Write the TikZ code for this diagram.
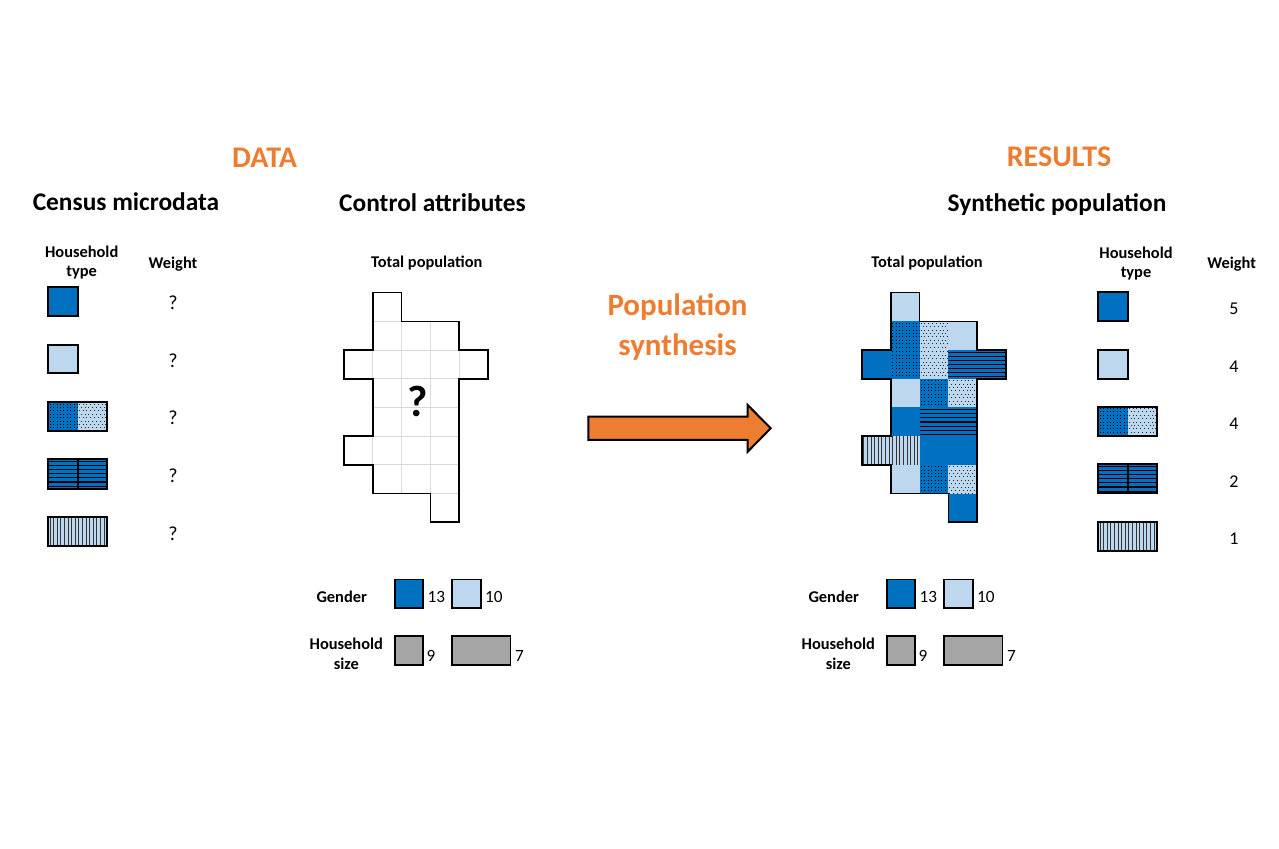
\documentclass[tikz,border=0pt]{standalone}
\usepackage{fontspec}
\setmainfont{Carlito}
\definecolor{dblue}{HTML}{0070C0}
\definecolor{lblue}{HTML}{BDD7EE}
\definecolor{orng}{HTML}{ED7D31}
\definecolor{gry}{HTML}{A5A5A5}
\definecolor{gridc}{HTML}{D9D9D9}
% pattern cells, arguments in pixel coordinates x1 y1 x2 y2
\newcommand\cellDD[4]{%
  \fill[dblue] (#1,#2) rectangle (#3,#4);
  \begin{scope}
    \clip (#1,#2) rectangle (#3,#4);
    \foreach \j in {0,...,8}{\foreach \i in {0,...,8}{%
      \fill[black] ({#1+1.4+3.4*\i},{#2+1.4+3.4*\j}) rectangle ++(1,1);}}
  \end{scope}}
\newcommand\cellLD[4]{%
  \fill[lblue] (#1,#2) rectangle (#3,#4);
  \begin{scope}
    \clip (#1,#2) rectangle (#3,#4);
    \foreach \j in {0,...,8}{\foreach \i in {0,...,8}{%
      \fill[black!85] ({#1+1+3.8*\i+1.9*mod(\j,2)},{#2+1.4+3.4*\j}) rectangle ++(0.9,0.9);}}
  \end{scope}}
\newcommand\cellHS[4]{%
  \fill[dblue] (#1,#2) rectangle (#3,#4);
  \begin{scope}
    \clip (#1,#2) rectangle (#3,#4);
    \foreach \k in {0,...,8}{\draw[black, line width=0.55pt] (#1,{#2+2.2+4.1*\k}) -- (#3,{#2+2.2+4.1*\k});}
  \end{scope}}
\newcommand\cellVS[4]{%
  \fill[lblue] (#1,#2) rectangle (#3,#4);
  \begin{scope}
    \clip (#1,#2) rectangle (#3,#4);
    \foreach \k in {0,...,16}{\draw[black!80, line width=0.45pt] ({#1+1.8+3.6*\k},#2) -- ({#1+1.8+3.6*\k},#4);}
  \end{scope}}
\tikzset{
  ttl/.style={font=\fontsize{15}{18}\selectfont\bfseries, text=orng, anchor=base, inner sep=0pt},
  ttlb/.style={font=\fontsize{15.5}{18}\selectfont\bfseries, text=orng, anchor=base, inner sep=0pt},
  hdr/.style={font=\fontsize{12.7}{15}\selectfont\bfseries, anchor=base, inner sep=0pt},
  lbl/.style={font=\fontsize{8.2}{9}\selectfont\bfseries, anchor=base, inner sep=0pt},
  qm/.style={font=\fontsize{10}{12}\selectfont, anchor=base, inner sep=0pt},
  num/.style={font=\fontsize{9}{11}\selectfont, anchor=base, inner sep=0pt},
  cnt/.style={font=\fontsize{8.6}{10}\selectfont, anchor=base west, inner sep=0pt},
  box/.style={draw=black, line width=1pt},
  sbox/.style={draw=black, line width=0.8pt},
  outl/.style={draw=black, line width=0.8pt, line join=miter},
}
\begin{document}
\begin{tikzpicture}[x=0.5pt,y=-0.5pt]
\useasboundingbox (0,0) rectangle (1279,849);

% ---------- titles ----------
\node[ttl] (data) at (264.6,167.3) {DATA};
\node[ttl] (results) at (1059,166.7) {RESULTS};
\node[hdr] (census) at (126,211) {Census microdata};
\node[hdr] (control) at (432.5,211.5) {Control attributes};
\node[hdr] (synth) at (1057,211.5) {Synthetic population};
\node[ttlb] (popa) at (677.5,316) {Population};
\node[ttlb] (popb) at (677.5,356) {synthesis};

% ---------- left: census microdata ----------
\node[lbl] (lht1) at (81.7,258) {Household};
\node[lbl] (lht2) at (81.7,277) {type};
\node[lbl] (lwt) at (173,268.5) {Weight};
\fill[dblue] (48.3,287.3) rectangle (78.3,316);
\draw[box] (48.3,287.3) rectangle (78.3,316);
\fill[lblue] (48.3,344.7) rectangle (78.3,373.3);
\draw[box] (48.3,344.7) rectangle (78.3,373.3);
\cellDD{48.3}{402.3}{77.8}{431}
\cellLD{77.8}{402.3}{107.3}{431}
\draw[box] (48.3,402.3) rectangle (107.3,431);
\cellHS{48.3}{459.3}{107.3}{488.7}
\draw[box] (48.3,459.3) rectangle (107.3,488.7);
\draw[black, line width=0.8pt] (77.8,459.3) -- (77.8,488.7);
\cellVS{48.3}{517.3}{107.3}{546}
\draw[box] (48.3,517.3) rectangle (107.3,546);
\node[qm] (lq1) at (173,310) {?};
\node[qm] (lq2) at (173,367.5) {?};
\node[qm] (lq3) at (173,425) {?};
\node[qm] (lq4) at (173,482.5) {?};
\node[qm] (lq5) at (173,540) {?};

% ---------- control attributes grid ----------
\node[lbl] (ltot) at (426.7,267.5) {Total population};
\fill[white] (372.8,292.7) -- (401.6,292.7) -- (401.6,321.4) -- (459.2,321.4) -- (459.2,350.1) -- (488,350.1) -- (488,378.8) -- (459.2,378.8) -- (459.2,522.3) -- (430.4,522.3) -- (430.4,493.6) -- (372.8,493.6) -- (372.8,464.9) -- (344,464.9) -- (344,436.2) -- (372.8,436.2) -- (372.8,378.8) -- (344,378.8) -- (344,350.1) -- (372.8,350.1) -- cycle;
\begin{scope}
  \clip (372.8,292.7) -- (401.6,292.7) -- (401.6,321.4) -- (459.2,321.4) -- (459.2,350.1) -- (488,350.1) -- (488,378.8) -- (459.2,378.8) -- (459.2,522.3) -- (430.4,522.3) -- (430.4,493.6) -- (372.8,493.6) -- (372.8,464.9) -- (344,464.9) -- (344,436.2) -- (372.8,436.2) -- (372.8,378.8) -- (344,378.8) -- (344,350.1) -- (372.8,350.1) -- cycle;
  \foreach \c in {1,...,4}{\draw[gridc, line width=0.5pt] ({344+28.8*\c},292.7) -- ({344+28.8*\c},522.3);}
  \foreach \r in {1,...,7}{\draw[gridc, line width=0.5pt] (344,{292.7+28.7*\r}) -- (488,{292.7+28.7*\r});}
\end{scope}
\draw[outl] (372.8,292.7) -- (401.6,292.7) -- (401.6,321.4) -- (459.2,321.4) -- (459.2,350.1) -- (488,350.1) -- (488,378.8) -- (459.2,378.8) -- (459.2,522.3) -- (430.4,522.3) -- (430.4,493.6) -- (372.8,493.6) -- (372.8,464.9) -- (344,464.9) -- (344,436.2) -- (372.8,436.2) -- (372.8,378.8) -- (344,378.8) -- (344,350.1) -- (372.8,350.1) -- cycle;
\node[font=\fontsize{22}{26}\selectfont\bfseries, anchor=base, inner sep=0pt] (bigq) at (417.3,416.7) {?};

% ---------- left legends ----------
\node[lbl] (lgen) at (341.7,602.5) {Gender};
\fill[dblue] (394.7,579.3) rectangle (423,607.7);
\draw[sbox] (394.7,579.3) rectangle (423,607.7);
\node[cnt] (lg13) at (427.3,602.3) {13};
\fill[lblue] (452,579.3) rectangle (480.7,607.7);
\draw[sbox] (452,579.3) rectangle (480.7,607.7);
\node[cnt] (lg10) at (484.7,602.3) {10};
\node[lbl] (lhs1) at (346.3,649.5) {Household};
\node[lbl] (lhs2) at (346.3,669) {size};
\fill[gry] (394.7,635.7) rectangle (423,665);
\draw[sbox] (394.7,635.7) rectangle (423,665);
\node[cnt] (ls9) at (426.3,661.7) {9};
\fill[gry] (452,635.7) rectangle (510.3,665);
\draw[sbox] (452,635.7) rectangle (510.3,665);
\node[cnt] (ls7) at (514.7,661.7) {7};

% ---------- arrow ----------
\filldraw[fill=orng, draw=black, line width=1pt, line join=miter] (588.3,416.7) -- (747.7,416.7) -- (747.7,405) -- (770.7,428.3) -- (747.7,451.7) -- (747.7,440) -- (588.3,440) -- cycle;

% ---------- result grid ----------
\node[lbl] (rtot) at (927,267.5) {Total population};
\fill[lblue] (890.8,292.7) rectangle (919.6,321.4);
\cellDD{890.8}{321.4}{919.6}{350.1}
\cellLD{919.6}{321.4}{948.4}{350.1}
\fill[lblue] (948.4,321.4) rectangle (977.2,350.1);
\fill[dblue] (862,350.1) rectangle (890.8,378.8);
\cellDD{890.8}{350.1}{919.6}{378.8}
\cellLD{919.6}{350.1}{948.4}{378.8}
\cellHS{948.4}{350.1}{1006}{378.8}
\fill[lblue] (890.8,378.8) rectangle (919.6,407.5);
\cellDD{919.6}{378.8}{948.4}{407.5}
\cellLD{948.4}{378.8}{977.2}{407.5}
\fill[dblue] (890.8,407.5) rectangle (919.6,436.2);
\cellHS{919.6}{407.5}{977.2}{436.2}
\cellVS{862}{436.2}{919.6}{464.9}
\fill[dblue] (919.6,436.2) rectangle (977.2,464.9);
\fill[lblue] (890.8,464.9) rectangle (919.6,493.6);
\cellDD{919.6}{464.9}{948.4}{493.6}
\cellLD{948.4}{464.9}{977.2}{493.6}
\fill[dblue] (948.4,493.6) rectangle (977.2,522.3);
\begin{scope}[shift={(518,0)}]
\draw[outl] (372.8,292.7) -- (401.6,292.7) -- (401.6,321.4) -- (459.2,321.4) -- (459.2,350.1) -- (488,350.1) -- (488,378.8) -- (459.2,378.8) -- (459.2,522.3) -- (430.4,522.3) -- (430.4,493.6) -- (372.8,493.6) -- (372.8,464.9) -- (344,464.9) -- (344,436.2) -- (372.8,436.2) -- (372.8,378.8) -- (344,378.8) -- (344,350.1) -- (372.8,350.1) -- cycle;
\end{scope}

% ---------- right legends ----------
\node[lbl] (rgen) at (833.7,602.5) {Gender};
\fill[dblue] (886.7,579.3) rectangle (915,607.7);
\draw[sbox] (886.7,579.3) rectangle (915,607.7);
\node[cnt] (rg13) at (919.3,602.3) {13};
\fill[lblue] (944,579.3) rectangle (972.7,607.7);
\draw[sbox] (944,579.3) rectangle (972.7,607.7);
\node[cnt] (rg10) at (976.7,602.3) {10};
\node[lbl] (rhs1) at (838.3,649.5) {Household};
\node[lbl] (rhs2) at (838.3,669) {size};
\fill[gry] (886.7,635.7) rectangle (915,665);
\draw[sbox] (886.7,635.7) rectangle (915,665);
\node[cnt] (rs9) at (918.3,661.7) {9};
\fill[gry] (944,635.7) rectangle (1002.3,665);
\draw[sbox] (944,635.7) rectangle (1002.3,665);
\node[cnt] (rs7) at (1006.7,661.7) {7};

% ---------- right: synthetic population household types ----------
\node[lbl] (rht1) at (1136,258.5) {Household};
\node[lbl] (rht2) at (1136,277.5) {type};
\node[lbl] (rwt) at (1231.7,269) {Weight};
\fill[dblue] (1098.3,292.3) rectangle (1127.7,321);
\draw[box] (1098.3,292.3) rectangle (1127.7,321);
\fill[lblue] (1098.3,350) rectangle (1127.7,379);
\draw[box] (1098.3,350) rectangle (1127.7,379);
\cellDD{1098.3}{406.7}{1127.7}{436}
\cellLD{1127.7}{406.7}{1157}{436}
\draw[box] (1098.3,406.7) rectangle (1157,436);
\cellHS{1098.3}{464.3}{1157}{493.3}
\draw[box] (1098.3,464.3) rectangle (1157,493.3);
\draw[black, line width=0.8pt] (1127.7,464.3) -- (1127.7,493.3);
\cellVS{1098.3}{522}{1157}{551}
\draw[box] (1098.3,522) rectangle (1157,551);
\node[num] (rw1) at (1234,315) {5};
\node[num] (rw2) at (1234,372.5) {4};
\node[num] (rw3) at (1234,430) {4};
\node[num] (rw4) at (1234,487.5) {2};
\node[num] (rw5) at (1234,545) {1};
\end{tikzpicture}
\end{document}
